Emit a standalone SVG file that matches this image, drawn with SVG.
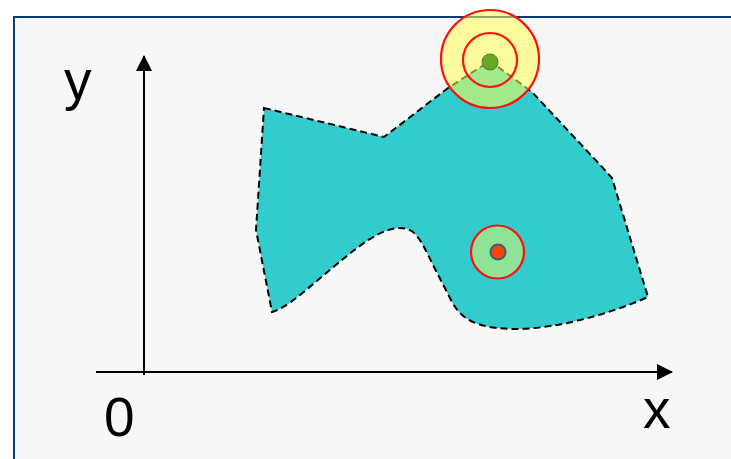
<svg xmlns="http://www.w3.org/2000/svg" width="731" height="459" viewBox="0 0 731 459">
<style>
.lbl{font-family:"Liberation Sans",Arial,sans-serif;font-size:55px;fill:#000}
.axis{stroke:#000;stroke-width:2;fill:none}
.ring{fill:none;stroke:#ff1010;stroke-width:2.2}
</style>
<defs>
<marker id="arr" viewBox="0 0 16 16" refX="15" refY="8" markerWidth="16" markerHeight="16" markerUnits="userSpaceOnUse" orient="auto">
<path d="M0,0 L16,8 L0,16 Z" fill="#000"/>
</marker>
</defs>
<rect x="0" y="0" width="731" height="459" fill="#ffffff"/>
<rect id="frame" x="14" y="17" width="730" height="460" fill="#f7f7f7" stroke="#0b3b73" stroke-width="2"/>
<g id="axes">
<line class="axis" x1="144" y1="375" x2="144" y2="56" marker-end="url(#arr)"/>
<line class="axis" x1="96" y1="372" x2="672" y2="372" marker-end="url(#arr)"/>
</g>
<g id="shape">
<path d="M264,108 L384,137 L448,88 L490,61 L532,92 L603,168 L612,178 L648,297 C600,318 540,333 497,328 C470,325 458,315 450,298 L433,265 C420,238 415,228 400,228 C375,228 345,258 300,295 C285,307 278,310 272,312 L256,230 Z" fill="#33cccc" stroke="#000" stroke-width="2" stroke-dasharray="7,4"/>
</g>
<g id="top-point">
<circle cx="490" cy="59" r="49" fill="#ffff55" fill-opacity="0.55"/>
<circle class="ring" cx="490" cy="59" r="49"/>
<circle class="ring" cx="490" cy="60" r="27"/>
<circle cx="490" cy="62" r="8" fill="#66aa22" stroke="#557744" stroke-width="1"/>
</g>
<g id="bottom-point">
<circle cx="497.5" cy="252" r="26.5" fill="#ffff55" fill-opacity="0.45"/>
<circle class="ring" cx="497.5" cy="252" r="26.5"/>
<circle cx="498" cy="252" r="7.5" fill="#ff4400" stroke="#336677" stroke-width="2"/>
</g>
<g id="labels">
<text class="lbl" x="64" y="99">y</text>
<text class="lbl" x="104" y="436">0</text>
<text class="lbl" x="643" y="428">x</text>
</g>
</svg>
